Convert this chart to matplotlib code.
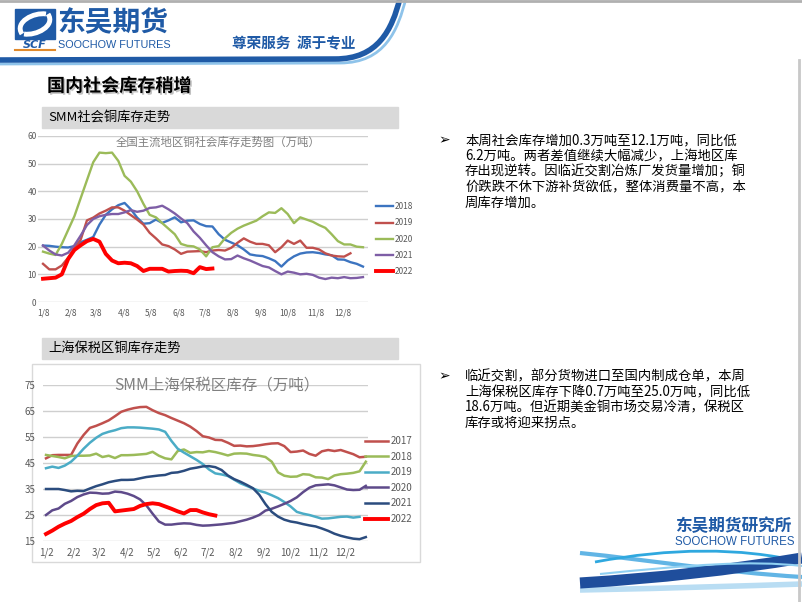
import matplotlib.pyplot as plt
from matplotlib.path import Path
from matplotlib.patches import PathPatch, Rectangle
import matplotlib.patheffects as pe

plt.rcParams['font.family'] = ['Noto Sans CJK SC', 'DejaVu Sans']

W, H = 802, 602
BLUE = '#1F5AA6'

# days from the 1st tick to each month tick (weekly series)
month_days = [0, 31, 59, 90, 120, 151, 181, 212, 243, 273, 304, 334]
labels_8 = ['1/8', '2/8', '3/8', '4/8', '5/8', '6/8', '7/8', '8/8', '9/8', '10/8', '11/8', '12/8']
labels_2 = ['1/2', '2/2', '3/2', '4/2', '5/2', '6/2', '7/2', '8/2', '9/2', '10/2', '11/2', '12/2']

# SMM social copper inventory (10k t), weekly
soc_years = ['2018', '2019', '2020', '2021', '2022']
soc_2018 = [20.4, 20.3, 20, 19.8, 19.7, 20.2, 21.6, 22.5, 23.5, 28, 31.5, 33.5, 35, 35.8, 33.5, 30.5,
            28.3, 28.5, 29.8, 28.6, 29.5, 30.6, 28.8, 29.4, 29.5, 28.2, 27.4, 27.3, 24.5, 22.5, 21.5,
            20.5, 19, 17.2, 16.8, 16.6, 15.8, 14.8, 12.8, 15, 16.5, 17.5, 17.9, 18, 17.7, 17.2, 16.9,
            15.4, 15.3, 14.4, 13.8, 12.8]
soc_2019 = [13.8, 11.8, 11.8, 13.2, 16, 19.5, 22.5, 29.5, 30.5, 32, 33, 34.2, 34.2, 33, 31.4, 29.8,
            28, 25, 23, 20.8, 20.2, 19, 17.4, 18.2, 18.3, 18.4, 18, 18.6, 18.8, 18.6, 19.6, 21.4, 23,
            21.8, 21, 21, 20.5, 18, 19.8, 22.2, 21, 22.2, 19.6, 19.6, 19, 17.6, 16.8, 16.5, 16.4, 17.6]
soc_2020 = [18.2, 17.5, 17, 21, 26, 31, 37.5, 44, 50.5, 54, 53.8, 54, 51, 45.6, 43.5, 40, 35.5, 31.5,
            30.6, 28.5, 26.5, 24.5, 21, 20.3, 20.1, 19, 16.5, 19.8, 20.2, 23, 25, 26.5, 27.6, 28.5,
            29.4, 31, 32.4, 32.2, 33.9, 31.8, 28.5, 30.6, 29.8, 29, 27.8, 26.8, 24.5, 22, 20.8, 20.8,
            20, 19.8]
soc_2021 = [20.4, 18.6, 17.2, 16.8, 17.8, 20.5, 24, 27.8, 30, 31, 31.5, 31.8, 31.8, 32.4, 33.2, 32.6,
            33, 34, 34.2, 34.8, 33.5, 32, 30.2, 28.5, 25.5, 23.2, 20.5, 18, 16.5, 15.4, 15.5, 16.8,
            15.8, 15, 14, 13, 12.5, 11.2, 10, 11, 10.6, 10, 10.2, 9.8, 8.8, 8.3, 8.8, 8.6, 9, 8.6,
            8.7, 9]
soc_2022 = [8.4, 8.6, 8.8, 10, 15.5, 18.8, 20.5, 22, 22.8, 21.8, 17.4, 15, 14, 14.2, 14, 13, 11.2,
            12, 12, 12, 11, 11.2, 11.3, 11.2, 10.4, 12.6, 11.9, 12.1]

# SMM Shanghai bonded zone inventory (10k t), weekly
bond_years = ['2017', '2018', '2019', '2020', '2021', '2022']
bond_2017 = [46.8, 48, 48.1, 48.1, 48.1, 52.5, 55.8, 58.5, 59.3, 60.3, 61.4, 63, 64.7, 65.5, 66.1,
             66.5, 66.6, 65.3, 64.2, 63.4, 62.3, 61.3, 60.3, 59, 57.3, 55.3, 54.8, 53.9, 53.8, 52.8,
             51.6, 51.7, 51.4, 51.5, 51.8, 52.2, 52.5, 52.6, 51.5, 49.2, 49.4, 49.8, 48.5, 47.8,
             49.5, 50, 49.6, 50, 49.2, 48.4, 47.2, 47.4]
bond_2018 = [48.1, 47.7, 47.3, 46.8, 47.7, 47.8, 47.8, 47.9, 48.6, 47.3, 47.8, 46.9, 48, 48, 48.1,
             48.3, 48.5, 49.3, 47.8, 46.8, 46.4, 49.6, 50.2, 48.9, 49.2, 49.1, 49.6, 49.2, 48.6,
             47.9, 48.6, 48.7, 48.6, 48.1, 47.8, 47.3, 45.5, 41.4, 40.1, 39.7, 39.8, 40.7, 40.5,
             39.5, 39.4, 38.8, 40.2, 40.7, 40.9, 41.2, 41.8, 45.5]
bond_2019 = [43, 43.6, 43.1, 44, 45.5, 47.8, 50.5, 52.8, 54.7, 56.2, 57, 57.6, 58.4, 58.7, 58.7,
             58.6, 58.4, 58.2, 57.9, 57, 53.5, 50.5, 49, 47.6, 46.2, 44.6, 42.5, 41, 40.6, 40, 38.6,
             37.2, 36.2, 35.2, 34.3, 33.6, 32.6, 31.5, 30, 28.3, 26.2, 25.5, 25, 24.3, 23.6, 23.7,
             24, 24.3, 24.4, 24, 24.3]
bond_2020 = [25, 26.8, 27.5, 29.3, 30.4, 31.9, 32.9, 33.6, 33.5, 33.2, 33.3, 34, 33.8, 33.2, 32.3,
             31, 28.7, 25.5, 22.5, 21.3, 21.3, 21.6, 21.8, 21.7, 21.2, 20.9, 21, 21.2, 21.4, 21.7,
             22, 22.6, 23.2, 24, 25, 26.7, 27.4, 28.3, 29.3, 30.4, 31.8, 33.8, 35.5, 36.4, 36.6,
             36.8, 36.4, 35.6, 34.8, 34.6, 34.7, 36.2]
bond_2021 = [35, 35, 35, 34.6, 34.1, 34.3, 34.2, 35.2, 36.1, 36.8, 37.6, 38.1, 38.5, 38.5, 38.6,
             39.1, 39.6, 39.9, 40.2, 40.4, 41.2, 41.4, 42, 42.8, 43.2, 43.7, 43.8, 43.4, 42.3, 40.2,
             38.8, 37.8, 36.6, 35.3, 32.8, 29.2, 26.2, 24.4, 23.2, 22.5, 22.1, 21.5, 21, 20.6, 19.8,
             18.9, 17.8, 17, 16.4, 15.9, 15.7, 16.5]
bond_2022 = [17.7, 19, 20.5, 21.7, 22.7, 24.2, 25.5, 27.3, 28.8, 29.5, 29.7, 26.4, 26.7, 27, 27.3,
             28.5, 29.2, 29.5, 29.2, 28.3, 27.4, 26.4, 25.6, 26.9, 26.9, 26, 25.3, 24.8]

text1 = ['本周社会库存增加0.3万吨至12.1万吨，同比低',
         '6.2万吨。两者差值继续大幅减少，上海地区库',
         '存出现逆转。因临近交割冶炼厂发货量增加；铜',
         '价跌跌不休下游补货欲低，整体消费量不高，本',
         '周库存增加。']
text2 = ['临近交割，部分货物进口至国内制成仓单，本周',
         '上海保税区库存下降0.7万吨至25.0万吨，同比低',
         '18.6万吨。但近期美金铜市场交易冷清，保税区',
         '库存或将迎来拐点。']

fig = plt.figure(figsize=(W / 100, H / 100), dpi=100)

# page decoration, drawn in pixel coordinates
bg = fig.add_axes([0, 0, 1, 1])
bg.set_xlim(0, W)
bg.set_ylim(H, 0)
bg.axis('off')
bg.set_zorder(0)


def curve(pts, codes, **kw):
    bg.add_patch(PathPatch(Path(pts, codes), fill=False, capstyle='butt', **kw))


L, C = Path.LINETO, Path.CURVE4
M = Path.MOVETO
# header swoosh
curve([(0, 64), (340, 63), (385, 63), (398, 30), (406, -2)], [M, L, C, C, C],
      edgecolor='#8EC3EA', lw=2)
curve([(0, 60), (335, 59), (378, 59), (392, 30), (400, -2)], [M, L, C, C, C],
      edgecolor=BLUE, lw=4)
bg.plot([0, W], [1, 1], color='#B0B0B0', lw=2)
bg.plot([W - 3, W - 3], [60, H], color='#C8C8C8', lw=2)

# top-left emblem
bg.add_patch(Rectangle((15, 9), 40, 30, color=BLUE))
curve([(22, 34), (14, 22), (34, 12), (46, 14)], [M, C, C, C], edgecolor='white', lw=3.5)
curve([(24, 34), (36, 36), (56, 26), (48, 14)], [M, C, C, C], edgecolor='white', lw=3.5)
bg.text(35, 44.5, 'SCF', color=BLUE, fontsize=8, fontweight='bold', ha='center', va='center',
        family='DejaVu Sans', fontstyle='italic')
bg.plot([15, 55], [50, 50], color='#E08A2C', lw=1.5)
bg.text(57, 23, '东吴期货', color=BLUE, fontsize=20, fontweight='bold', va='center')
bg.text(58, 45, 'SOOCHOW FUTURES', color=BLUE, fontsize=7.8, va='center', family='Liberation Sans')
bg.text(232, 43, '尊荣服务  源于专业', color=BLUE, fontsize=10.5, fontweight='bold', va='center')

# page title
bg.text(47, 86, '国内社会库存稍增', fontsize=13, fontweight='bold', va='center', color='black',
        path_effects=[pe.withSimplePatchShadow(offset=(1.2, -1.2), shadow_rgbFace='#999999', alpha=0.6)])

# section bars
for y0, label in [(107, 'SMM社会铜库存走势'), (338, '上海保税区铜库存走势')]:
    bg.add_patch(Rectangle((42, y0), 356, 21, color='#D9D9D9'))
    bg.text(48, y0 + 10.5, label, fontsize=9.5, va='center', color='black')

# second chart frame
bg.add_patch(Rectangle((32, 364), 388, 198, facecolor='white', edgecolor='#D9D9D9', lw=1))

# bullet texts
for y0, lines in [(140.7, text1), (376.7, text2)]:
    bg.text(438, y0, '➢', fontsize=10, va='center', family='DejaVu Sans')
    for k, line in enumerate(lines):
        bg.text(465, y0 + k * 15.4, line, fontsize=9.6, va='center', color='black')

# bottom-right logo and swoosh
curve([(580, 590), (680, 588), (740, 586), (802, 584)], [M, C, C, C], edgecolor='#B9DDF3', lw=4)
curve([(580, 553), (650, 560), (720, 572), (802, 577)], [M, C, C, C], edgecolor='#62B5E5', lw=3)
curve([(595, 562), (670, 548), (740, 547), (802, 562)], [M, C, C, C], edgecolor='#2FA8DF', lw=2)
curve([(580, 583), (660, 578), (730, 570), (802, 558)], [M, C, C, C], edgecolor='#1F4E9C', lw=8)
curve([(600, 574), (690, 565), (750, 560), (802, 566)], [M, C, C, C], edgecolor='#8FD0F2', lw=1.5)
bg.text(675, 526, '东吴期货研究所', color=BLUE, fontsize=12, fontweight='bold', va='center')
bg.text(675, 542, 'SOOCHOW FUTURES', color=BLUE, fontsize=8.3, va='center', family='Liberation Sans')


def frac(x0, y0, x1, y1):
    return [x0 / W, 1 - y1 / H, (x1 - x0) / W, (y1 - y0) / H]


def style(ax, fs, xpad, ypad):
    ax.set_zorder(2)
    for s in ax.spines.values():
        s.set_visible(False)
    ax.patch.set_visible(False)
    ax.tick_params(length=0, labelsize=fs, colors='#595959')
    ax.tick_params(axis='x', pad=xpad)
    ax.tick_params(axis='y', pad=ypad)
    ax.set_xticks([d / 7 for d in month_days])


def hgrid(ax, levels):
    for v in levels:
        ax.axhline(v, color='#CFCFCF', lw=1.0, zorder=0.5)


# chart 1
ax1 = fig.add_axes(frac(38, 136, 368, 302))
ax1.set_xlim(-0.8, 51.8)
ax1.set_ylim(0, 60)
style(ax1, 6, 5, 1)
ax1.set_xticklabels(labels_8)
ax1.set_yticks(range(0, 61, 10))
hgrid(ax1, range(0, 61, 10))
soc_colors = ['#3C74C0', '#C0504D', '#9BBB59', '#7E5EA6', '#FF0000']
for name, vals, c in zip(soc_years, [soc_2018, soc_2019, soc_2020, soc_2021, soc_2022], soc_colors):
    ax1.plot(range(len(vals)), vals, color=c, lw=2.8 if name == '2022' else 1.7, label=name)
ax1.text(0.545, 0.965, '全国主流地区铜社会库存走势图（万吨）', transform=ax1.transAxes, ha='center',
         va='center', fontsize=8.2, color='#808080')
ax1.legend(loc='center left', bbox_to_anchor=(376 / W, 1 - 239 / H), bbox_transform=fig.transFigure,
           frameon=False, fontsize=6, labelcolor='#595959', handlelength=2.0, handletextpad=0.3,
           labelspacing=0.85, borderpad=0, borderaxespad=0)

# chart 2
ax2 = fig.add_axes(frac(43, 385, 368, 541))
ax2.set_xlim(-0.48, 51.35)
ax2.set_ylim(15, 75)
style(ax2, 7, 5, 5.5)
ax2.set_xticklabels(labels_2)
ax2.set_yticks(range(15, 76, 10))
hgrid(ax2, range(15, 76, 10))
bond_colors = ['#C0504D', '#9BBB59', '#4BACC6', '#5E4A8A', '#2B4C7E', '#FF0000']
for name, vals, c in zip(bond_years, [bond_2017, bond_2018, bond_2019, bond_2020, bond_2021, bond_2022],
                         bond_colors):
    ax2.plot(range(len(vals)), vals, color=c, lw=2.8 if name == '2022' else 1.8, label=name)
ax2.text(0.535, 1.0, 'SMM上海保税区库存（万吨）', transform=ax2.transAxes, ha='center', va='center',
         fontsize=11.2, color='#808080')
ax2.legend(loc='center left', bbox_to_anchor=(365 / W, 1 - 480 / H), bbox_transform=fig.transFigure,
           frameon=False, fontsize=7, labelcolor='#595959', handlelength=2.4, handletextpad=0.2,
           labelspacing=0.58, borderpad=0, borderaxespad=0)

fig.savefig('out.png', dpi=100)
